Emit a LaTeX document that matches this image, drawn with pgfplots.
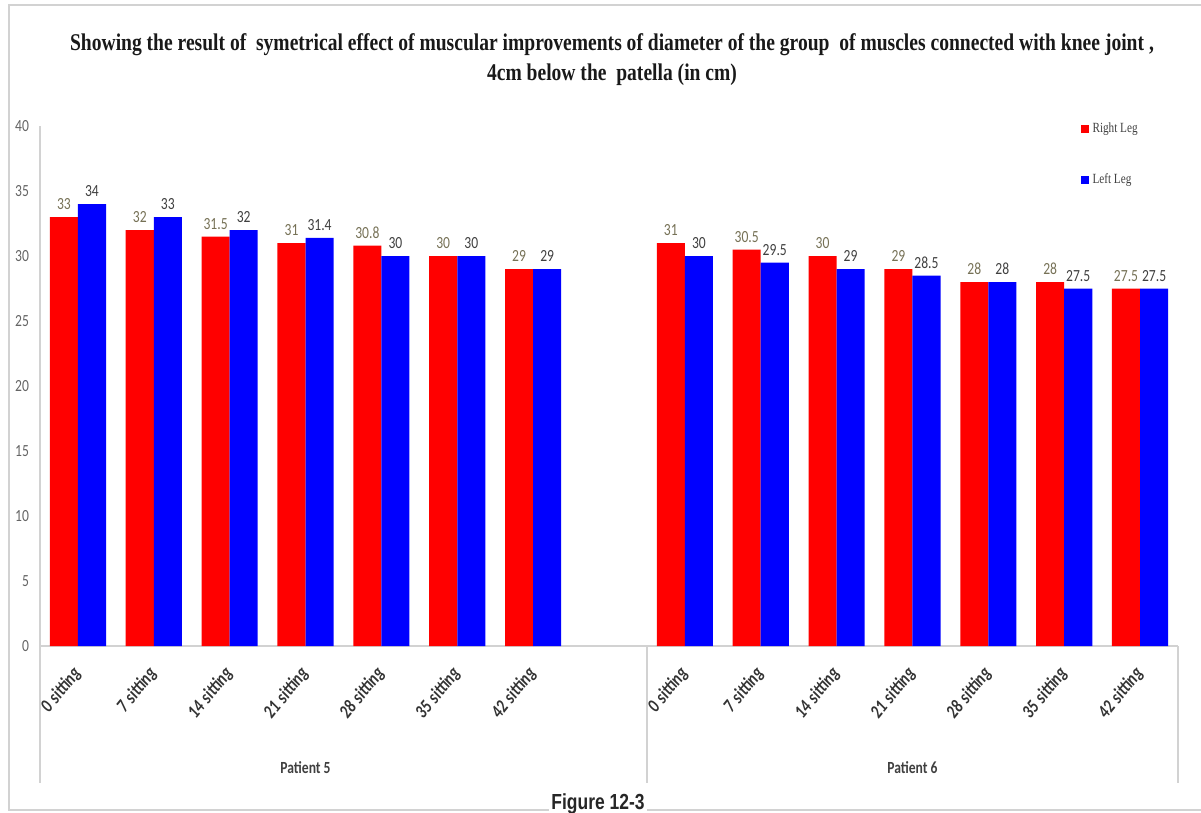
\documentclass[border=0pt]{standalone}
\usepackage{pgfplots}
\pgfplotsset{compat=1.18}
\usepackage{pgfplotstable}
\usepackage{fontspec}
\setmainfont{Carlito}
\newfontfamily\lblfont{Carlito}[FakeStretch=0.8]
\newfontfamily\ttlfont{Liberation Serif}[FakeStretch=0.815]
\newfontfamily\legfont{Liberation Serif}[FakeStretch=0.8]
\newfontfamily\figfont{Liberation Sans}[FakeStretch=0.8]

\definecolor{barred}{RGB}{255,0,0}
\definecolor{barblue}{RGB}{0,0,255}
\definecolor{lblred}{RGB}{118,113,86}
\definecolor{lbldark}{RGB}{64,64,64}
\definecolor{axgray}{RGB}{210,210,210}
\definecolor{tickgray}{RGB}{100,100,100}

% position, right leg, left leg (cm); position 7 is the gap between patients
\pgfplotstableread{
pos right left
0 33 34
1 32 33
2 31.5 32
3 31 31.4
4 30.8 30
5 30 30
6 29 29
8 31 30
9 30.5 29.5
10 30 29
11 29 28.5
12 28 28
13 28 27.5
14 27.5 27.5
}\legdata

\newcommand{\sit}[1]{#1\hspace{0.06em} sitting}

\begin{document}
\begin{tikzpicture}
\useasboundingbox (0,0) rectangle (600.5pt,-406.5pt);
% outer frame
\draw[axgray, line width=0.6pt] (600.5pt,-2.5pt) -- (4.5pt,-2.5pt) -- (4.5pt,-405pt) -- (600.5pt,-405pt);
\begin{axis}[
  at={(20pt,-323pt)}, anchor=south west,
  scale only axis, width=569pt, height=260pt,
  ymin=0, ymax=40, xmin=-0.5, xmax=14.5,
  ytick={0,5,...,40},
  xtick={0,1,2,3,4,5,6,8,9,10,11,12,13,14},
  xticklabels={\sit{0},\sit{7},\sit{14},\sit{21},\sit{28},\sit{35},\sit{42},
               \sit{0},\sit{7},\sit{14},\sit{21},\sit{28},\sit{35},\sit{42}},
  axis x line*=bottom, axis y line*=left,
  axis line style={draw=axgray, line width=0.6pt},
  major tick length=0pt,
  /pgf/number format/assume math mode=true,
  yticklabel style={font=\lblfont\fontsize{8.5}{10}\selectfont, text=tickgray, xshift=-2pt},
  xticklabel style={font=\lblfont\bfseries\itshape\fontsize{9.5}{11}\selectfont, text=black!80,
                    xshift=2pt, yshift=-9.5pt, rotate=51, anchor=east},
  ybar, bar width=0.37,
  nodes near coords,
  nodes near coords style={font=\lblfont\fontsize{8.5}{10}\selectfont},
  legend style={at={(0.914,1.015)}, anchor=north west, draw=none, fill=none,
                font=\legfont\fontsize{7}{8}\selectfont, text=lbldark,
                row sep=15pt, inner sep=0pt},
  legend cell align=left,
  clip=false,
]
\addplot[fill=barred, draw=none, bar shift=-0.185,
         every node near coord/.append style={text=lblred},
         legend image code/.code={\fill[barred] (0pt,-2pt) rectangle (4pt,2pt);}]
  table[x=pos, y=right] {\legdata};
\addlegendentry{Right Leg}
\addplot[fill=barblue, draw=none, bar shift=0.185,
         every node near coord/.append style={text=lbldark},
         legend image code/.code={\fill[barblue] (0pt,-2pt) rectangle (4pt,2pt);}]
  table[x=pos, y=left] {\legdata};
\addlegendentry{Left Leg}

% group dividers and group names
\draw[axgray, line width=0.6pt] (axis cs:-0.5,0) -- ++(0pt,-68.5pt);
\draw[axgray, line width=0.6pt] (axis cs:7.5,0) -- ++(0pt,-68.5pt);
\draw[axgray, line width=0.6pt] (axis cs:14.5,0) -- ++(0pt,-68.5pt);
\node[font=\lblfont\bfseries\fontsize{8.5}{10}\selectfont, text=lbldark, yshift=-61pt] at (axis cs:3,0) {Patient 5};
\node[font=\lblfont\bfseries\fontsize{8.5}{10}\selectfont, text=lbldark, yshift=-61pt] at (axis cs:11,0) {Patient 6};
\end{axis}

\node[font=\ttlfont\bfseries\fontsize{12}{15}\selectfont, align=center, text=black!90]
  at (306pt,-30pt) {Showing the result of \ symetrical effect of muscular improvements of diameter of the group \ of muscles connected with knee joint ,\\4cm below the \ patella (in cm)};
\node[font=\figfont\bfseries\fontsize{10.9}{12}\selectfont, fill=white, inner sep=1pt, anchor=base, text=black!85]
  at (299pt,-404.5pt) {Figure 12-3};
\end{tikzpicture}
\end{document}
